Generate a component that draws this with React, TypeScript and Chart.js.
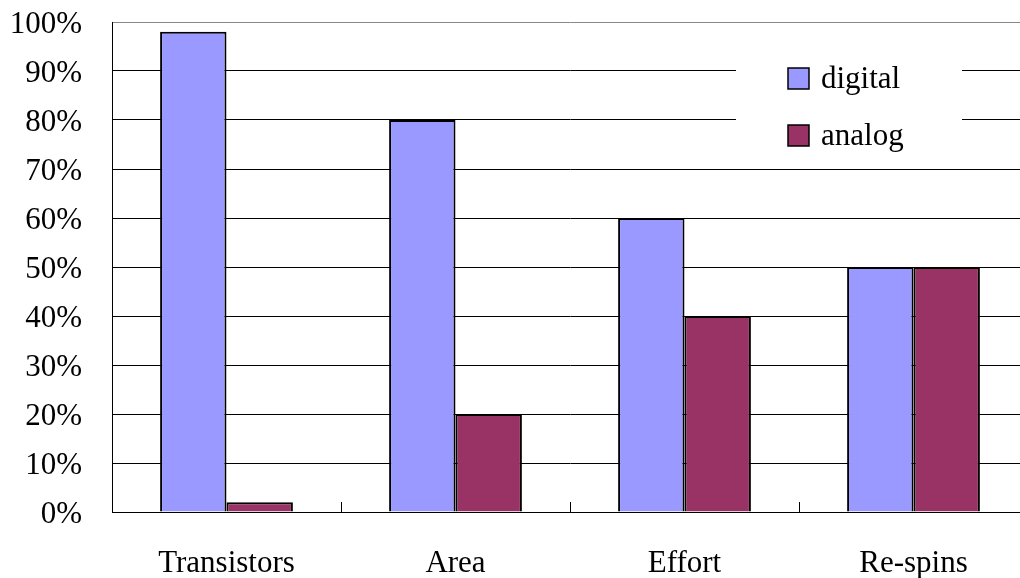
import React, { useEffect, useRef } from "react";
import { Chart, registerables } from "chart.js";

Chart.register(...registerables);

const categories = ["Transistors", "Area", "Effort", "Re-spins"];
const digitalValues = [98, 80, 60, 50];
const analogValues = [2, 20, 40, 50];
const seriesNames = ["digital", "analog"];
const seriesColors = ["#9999FF", "#993366"];

const FONT = "'Liberation Serif', 'Times New Roman', serif";

const overlayPlugin = {
  id: "overlay",
  beforeDatasetsDraw(chart: any) {
    const { ctx } = chart;
    ctx.save();
    ctx.fillStyle = "#ffffff";
    ctx.fillRect(736, 32, 226, 130);
    ctx.restore();
  },
  afterDatasetsDraw(chart: any) {
    const { ctx, chartArea } = chart;
    const n = categories.length;
    const w = (chartArea.right - chartArea.left) / n;
    ctx.save();
    ctx.strokeStyle = "#000";
    ctx.lineWidth = 1;
    for (let i = 1; i < n; i++) {
      const x = Math.round(chartArea.left + i * w) + 0.5;
      ctx.beginPath();
      ctx.moveTo(x, chartArea.bottom - 10);
      ctx.lineTo(x, chartArea.bottom);
      ctx.stroke();
    }
    // legend
    ctx.font = `31px ${FONT}`;
    ctx.textBaseline = "middle";
    ctx.textAlign = "left";
    seriesNames.forEach((name, i) => {
      const y = 68 + i * 57;
      ctx.fillStyle = seriesColors[i];
      ctx.fillRect(788, y, 21, 21);
      ctx.strokeStyle = "#000";
      ctx.lineWidth = 1.5;
      ctx.strokeRect(788, y, 21, 21);
      ctx.fillStyle = "#000";
      ctx.fillText(name, 821, y + 12);
    });
    ctx.restore();
  },
};

const clearPadding = (s: any) => {
  s.paddingTop = 0;
  s.paddingBottom = 0;
  s.paddingLeft = 0;
  s.paddingRight = 0;
};

export default function App() {
  const ref = useRef<HTMLCanvasElement>(null);
  useEffect(() => {
    if (!ref.current) return;
    const chart = new Chart(ref.current, {
      type: "bar",
      data: {
        labels: categories,
        datasets: [
          {
            label: seriesNames[0],
            data: digitalValues,
            backgroundColor: seriesColors[0],
            borderColor: "#000",
            borderWidth: 2,
          },
          {
            label: seriesNames[1],
            data: analogValues,
            backgroundColor: seriesColors[1],
            borderColor: "#000",
            borderWidth: 2,
          },
        ],
      },
      options: {
        responsive: false,
        animation: false,
        devicePixelRatio: 1,
        layout: { padding: { left: 10, top: 22, right: 0, bottom: 0 } },
        datasets: { bar: { barPercentage: 1, categoryPercentage: 0.58 } },
        plugins: { legend: { display: false }, tooltip: { enabled: false } },
        scales: {
          x: {
            grid: { display: false },
            border: { color: "#000", width: 1 },
            ticks: { color: "#000", font: { family: FONT, size: 31 }, padding: 25, maxRotation: 0 },
            afterFit: (s: any) => {
              s.height = 66;
              clearPadding(s);
            },
          },
          y: {
            min: 0,
            max: 100,
            grid: {
              drawTicks: false,
              color: (c: any) => (c.tick && c.tick.value === 100 ? "#888" : "#000"),
              lineWidth: 1,
            },
            border: { color: "#000", width: 1 },
            ticks: {
              stepSize: 10,
              color: "#000",
              padding: 30,
              labelOffset: 3,
              font: { family: FONT, size: 31 },
              callback: (v: any) => v + "%",
            },
            afterFit: (s: any) => {
              s.width = 102;
              clearPadding(s);
            },
          },
        },
      },
      plugins: [overlayPlugin],
    });
    return () => chart.destroy();
  }, []);
  return (
    <div style={{ position: "absolute", left: 0, top: 0, width: 1020, height: 578, overflow: "hidden", background: "#fff" }}>
      <canvas ref={ref} width={1028} height={578} style={{ display: "block" }} />
    </div>
  );
}
